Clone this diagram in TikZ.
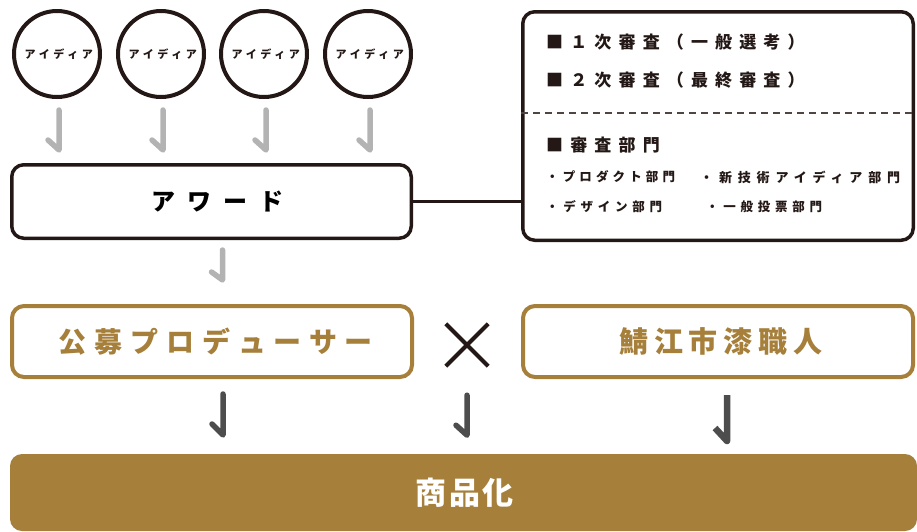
\documentclass[tikz,border=0pt]{standalone}
\usepackage{fontspec}
\setmainfont{Noto Sans CJK JP}
\usepackage{tikz}
\usetikzlibrary{positioning}

\definecolor{ink}{HTML}{231815}
\definecolor{gold}{HTML}{A67F3A}
\definecolor{hooklight}{HTML}{B3B3B3}
\definecolor{hookdark}{HTML}{4D4D4D}

% size, letter spacing; \lsback takes the last gap off again
\newcommand{\track}[2]{\fontsize{#1}{#1}\selectfont\bfseries\addfontfeature{LetterSpace=#2}%
	\def\lsback{\kern-\dimexpr #1pt*#2/100\relax}}

\begin{document}
\begin{tikzpicture}
		[x=1pt,y=-1pt,
		 idea/.style= {circle,draw=ink,line width=4,minimum size=86,inner sep=0,text=ink,font=\track{11}{33}},
		 box/.style= {rectangle,rounded corners=12,draw=ink,line width=3.5,inner sep=0},
		 gbox/.style= {rectangle,rounded corners=12,draw=gold,line width=4,inner sep=0,minimum height=71,text=gold},
		 item/.style= {anchor=west,inner sep=0,text=ink},
		 hk/.style= {line width=5.5,line cap=round,line join=round}]

		\useasboundingbox (0,0) rectangle (917,531);

		\node[idea] (i1) at ( 57,54) {アイディア\lsback}
		;
		\node[idea] (i2) at (161,54) {アイディア\lsback}
		;
		\node[idea] (i3) at (264,54) {アイディア\lsback}
		;
		\node[idea] (i4) at (368,54) {アイディア\lsback}
		;

		\node[box,minimum width=399.5,minimum height=73.5,font=\track{24}{50}] (award) at (211.5,201.5) {アワード\lsback}
		;

		\node[box,minimum width=390.5,minimum height=228.5] (judge) at (718,126) {}
		;
		\draw[ink,line width=3] (award.east) -- (award.east -| judge.west);
		\draw[ink!80,line width=1.5,dash pattern=on 7 off 5] ([yshift=13]judge.west) -- ([yshift=13]judge.east);

		\node[item,font=\track{17}{42}] (r1) at (546,42) {■１次審査（一般選考）}
		;
		\node[item,font=\track{17}{42}] (r2) at (546,80) {■２次審査（最終審査）}
		;
		\node[item,font=\track{17}{42}] (r3) at (546,145) {■審査部門}
		;
		\node[item,font=\track{12.5}{33}] (d1) at (546,177) {・プロダクト部門}
		;
		\node[item,font=\track{13}{45}] (d2) at (700,177) {・新技術アイディア部門}
		;
		\node[item,font=\track{12.5}{38}] (d3) at (546,207) {・デザイン部門}
		;
		\node[item,font=\track{12.5}{38}] (d4) at (706,207) {・一般投票部門}
		;

		\node[gbox,minimum width=400,font=\track{28}{28}] (pro) at (212,341.5) {公募プロデューサー\lsback}
		;
		\node[gbox,minimum width=390,font=\track{29}{20}] (craft) at (718,341.5) {鯖江市漆職人\lsback}
		;
		\node[minimum size=42,inner sep=0] (x) at (467,345) {}
		;
		\draw[ink,line width=4] (x.north west) -- (x.south east) (x.south west) -- (x.north east);

		\node[fill=gold,rounded corners=12,minimum width=907,minimum height=77,inner sep=0,text=white,font=\track{31}{8}] (goods) at (463.5,492.5) {商品化\lsback}
		;

		% hooks
		\draw[hk,hooklight] ([xshift=2,yshift=-11]i1.south) -- ++(0,40) -- ++(-11,-10);
		\draw[hk,hooklight] ([xshift=2,yshift=-11]i2.south) -- ++(0,40) -- ++(-11,-10);
		\draw[hk,hooklight] ([xshift=2,yshift=-11]i3.south) -- ++(0,40) -- ++(-11,-10);
		\draw[hk,hooklight] ([xshift=2,yshift=-11]i4.south) -- ++(0,40) -- ++(-11,-10);
		\draw[hk,hooklight] ([xshift=11,yshift=-10]award.south) -- ++(0,30) -- ++(-11,-8);

		\draw[hk,hookdark] ([xshift=11,yshift=-15]pro.south) -- ++(0,41) -- ++(-11,-11);
		\draw[hk,hookdark] ([yshift=-29]x.south) -- ++(0,40) -- ++(-11,-10);
		\draw[hk,hookdark,line cap=butt,line width=6.5] ([xshift=9,yshift=-16]craft.south) -- ++(0,46) -- ++(-12,-13);

	\end{tikzpicture}
\end{document}
